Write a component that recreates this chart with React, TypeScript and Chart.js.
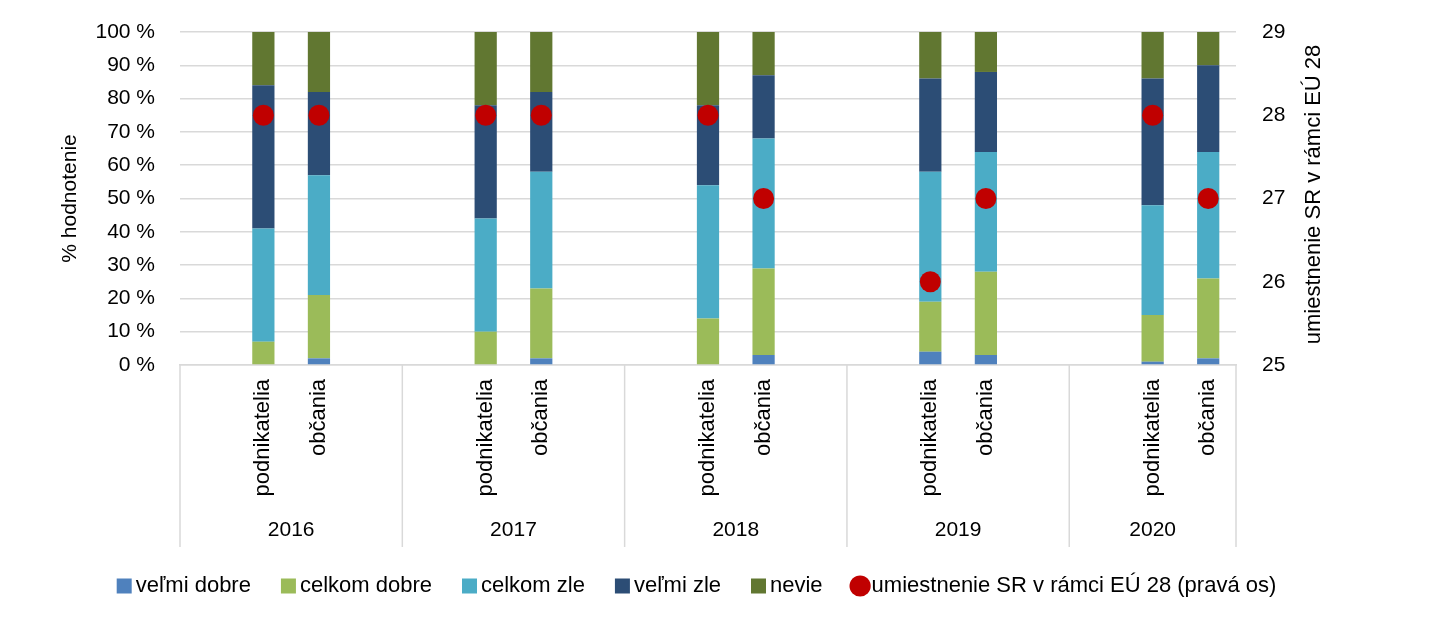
import React, { useRef, useEffect } from 'react';
import { Chart, registerables } from 'chart.js';

Chart.register(...registerables);

Chart.defaults.font.family = '"Liberation Sans", Arial, sans-serif';
Chart.defaults.font.size = 21;
Chart.defaults.color = '#000';

const years = ['2016', '2017', '2018', '2019', '2020'];
const groups = ['podnikatelia', 'občania'];

// values in order: 2016 podnikatelia, 2016 občania, 2017 podnikatelia, ...
const velmiDobre = [0, 2, 0, 2, 0, 3, 4, 3, 1, 2];
const celkomDobre = [7, 19, 10, 21, 14, 26, 15, 25, 14, 24];
const celkomZle = [34, 36, 34, 35, 40, 39, 39, 36, 33, 38];
const velmiZle = [43, 25, 34, 24, 24, 19, 28, 24, 38, 26];
const nevie = [16, 18, 22, 18, 22, 13, 14, 12, 14, 10];
const umiestnenie = [28, 28, 28, 28, 28, 27, 26, 27, 28, 27];

const rightTitle = 'umiestnenie SR v rámci EÚ 28';

// category slots: blank, podnikatelia, občania, blank (last year has no trailing blank)
type Slot = { label: string; idx: number | null; year: number };
const slots: Slot[] = [];
years.forEach((_, yi) => {
  slots.push({ label: '', idx: null, year: yi });
  groups.forEach((g, gi) => slots.push({ label: g, idx: yi * groups.length + gi, year: yi }));
  if (yi < years.length - 1) slots.push({ label: '', idx: null, year: yi });
});
const labels = slots.map((s) => s.label);
const spread = (arr: number[]) => slots.map((s) => (s.idx === null ? null : arr[s.idx]));

const GRID = '#D9D9D9';
const FONT = '"Liberation Sans", Arial, sans-serif';

const yearAxis = {
  id: 'yearAxis',
  afterDraw(chart: any) {
    const { ctx, scales, chartArea } = chart;
    const x = scales.x;
    const half = (x.getPixelForValue(1) - x.getPixelForValue(0)) / 2;
    const top = x.top;
    ctx.save();
    ctx.strokeStyle = GRID;
    ctx.lineWidth = 1.5;
    ctx.fillStyle = '#000';
    ctx.font = '21px ' + FONT;
    ctx.textAlign = 'center';
    ctx.textBaseline = 'middle';
    years.forEach((y, yi) => {
      const idxs = slots.map((s, i) => (s.year === yi ? i : -1)).filter((i) => i >= 0);
      const x0 = x.getPixelForValue(idxs[0]) - half;
      const x1 = x.getPixelForValue(idxs[idxs.length - 1]) + half;
      ctx.beginPath();
      ctx.moveTo(x0, top);
      ctx.lineTo(x0, top + 182);
      if (yi === years.length - 1) {
        ctx.moveTo(x1, top);
        ctx.lineTo(x1, top + 182);
      }
      ctx.stroke();
      ctx.fillText(y, (x0 + x1) / 2, top + 165);
    });
    // right axis title, reading bottom to top
    ctx.font = '22px ' + FONT;
    ctx.translate(1306, (chartArea.top + chartArea.bottom) / 2 - 4);
    ctx.rotate(-Math.PI / 2);
    ctx.fillText(rightTitle, 0, 0);
    ctx.restore();
  }
};

export default function App() {
  const chartRef = useRef<HTMLCanvasElement>(null);
  useEffect(() => {
    if (!chartRef.current) return;
    const bar = (label: string, data: number[], color: string) => ({
      type: 'bar' as const,
      label,
      data: spread(data),
      backgroundColor: color,
      borderWidth: 0,
      stack: 's',
      yAxisID: 'y',
      order: 1,
      categoryPercentage: 0.4,
      barPercentage: 1
    });
    const chart = new Chart(chartRef.current, {
      type: 'bar',
      data: {
        labels,
        datasets: [
          bar('veľmi dobre', velmiDobre, '#4F81BD'),
          bar('celkom dobre', celkomDobre, '#9BBB59'),
          bar('celkom zle', celkomZle, '#4BACC6'),
          bar('veľmi zle', velmiZle, '#2C4D75'),
          bar('nevie', nevie, '#617731'),
          {
            type: 'line' as const,
            label: 'umiestnenie SR v rámci EÚ 28 (pravá os)',
            data: spread(umiestnenie),
            showLine: false,
            yAxisID: 'y1',
            order: 0,
            pointRadius: 10.5,
            pointHoverRadius: 10.5,
            pointBackgroundColor: '#C00000',
            pointBorderWidth: 0,
            backgroundColor: '#C00000',
            borderColor: '#C00000'
          }
        ] as any
      },
      options: {
        responsive: true,
        maintainAspectRatio: false,
        animation: false,
        layout: { padding: { top: 24, left: 0, right: 32, bottom: 6 } },
        plugins: {
          tooltip: { enabled: false },
          legend: {
            position: 'bottom',
            labels: {
              usePointStyle: true,
              boxWidth: 1,
              boxHeight: 15,
              padding: 37,
              font: { size: 22 },
              sort: (a: any, b: any) => a.datasetIndex - b.datasetIndex,
              generateLabels: (c: any) =>
                Chart.defaults.plugins.legend.labels.generateLabels(c).map((item: any) => ({
                  ...item,
                  lineWidth: 0,
                  pointStyle: item.datasetIndex === 5 ? 'circle' : 'rect'
                }))
            }
          }
        },
        scales: {
          x: {
            stacked: true,
            grid: { display: false, drawTicks: false },
            border: { display: true, color: GRID, width: 1.5 },
            ticks: { autoSkip: false, minRotation: 90, maxRotation: 90, padding: 14, font: { size: 22 } },
            afterFit: (s: any) => {
              s.height = 173;
            }
          },
          y: {
            stacked: true,
            min: 0,
            max: 100,
            position: 'left',
            grid: { color: GRID, lineWidth: 1.5, drawTicks: false },
            border: { display: false },
            ticks: { stepSize: 10, padding: 25, callback: (v: any) => v + ' %' },
            title: { display: true, text: '% hodnotenie', padding: { top: 50, bottom: 0 } },
            afterFit: (s: any) => {
              s.width = 172;
              s.paddingTop = 12;
              s.paddingBottom = 12;
            }
          },
          y1: {
            min: 25,
            max: 29,
            position: 'right',
            grid: { display: false, drawTicks: false },
            border: { display: false },
            ticks: { stepSize: 1, padding: 26 },
            afterFit: (s: any) => {
              s.width = 156;
              s.paddingTop = 12;
              s.paddingBottom = 12;
            }
          }
        }
      },
      plugins: [yearAxis]
    });
    return () => {
      chart.destroy();
    };
  }, []);

  return (
    <div style={{ width: 1416, height: 605, position: 'relative' }}>
      <canvas ref={chartRef} />
    </div>
  );
}
